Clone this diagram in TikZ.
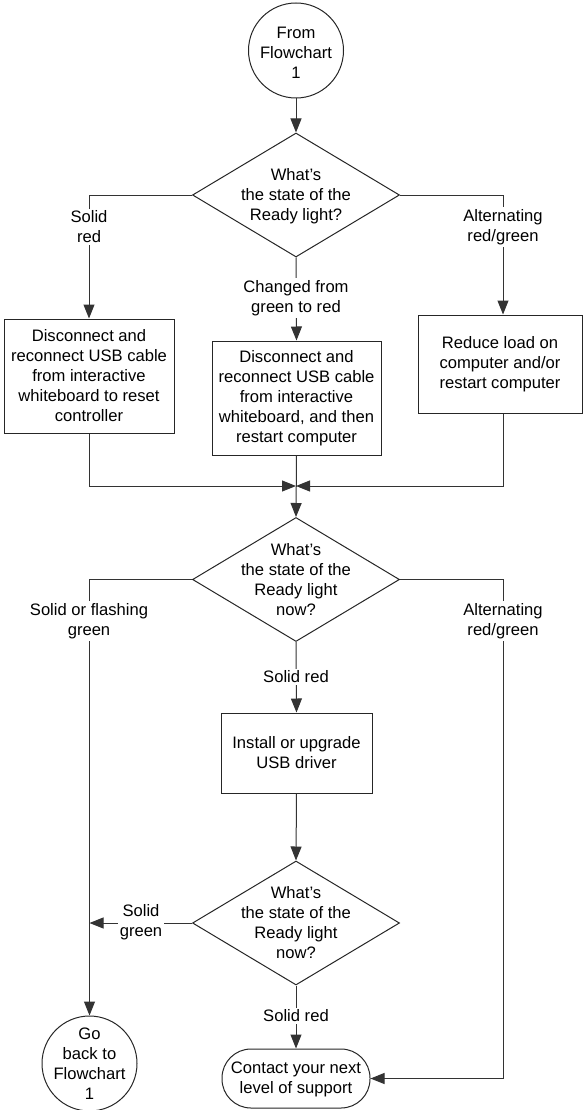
\documentclass[tikz,border=0pt]{standalone}
\usepackage{fontspec}
\setmainfont{Liberation Sans}
\usetikzlibrary{arrows.meta,shapes.geometric}
\begin{document}
\begin{tikzpicture}[x=1pt,y=-1pt,
  every node/.style={font=\fontsize{16.6}{20}\selectfont, align=center, inner sep=0pt},
  shp/.style={draw=black!85, line width=1pt, fill=white},
  boxn/.style={shp, rectangle, minimum width=#1},
  circn/.style={shp, circle, minimum size=95pt},
  dia/.style={shp, diamond, minimum width=207pt, minimum height=124pt},
  term/.style={shp, rectangle, rounded corners=29pt, minimum width=148pt, minimum height=59pt},
  txt/.style={},
  lbl/.style={fill=white, inner sep=2pt},
  conn/.style={draw=black!80, line width=1pt},
  arr/.style={conn, -{Triangle[length=14pt,width=11pt]}}
]
\useasboundingbox (0,0) rectangle (583,1110);
% shapes
\node[circn] (start) at (296,50.5) {};
\node[txt] (startT) at (296,53) {From\\Flowchart\\1};
\node[dia] (d1) at (296,195) {};
\node[txt] (d1T) at (296,196) {What’s\\the state of the\\Ready light?};
\node[boxn=170pt, minimum height=114pt] (lbox) at (89,376) {Disconnect and\\reconnect USB cable\\from interactive\\whiteboard to reset\\controller};
\node[boxn=169pt, minimum height=114pt] (mbox) at (296.5,398) {Disconnect and\\reconnect USB cable\\from interactive\\whiteboard, and then\\restart computer};
\node[boxn=164pt, minimum height=98pt] (rbox) at (500,364) {Reduce load on\\computer and/or\\restart computer};
\coordinate (m) at (296,486);
\node[dia] (d2) at (296,579.5) {};
\node[txt] (d2T) at (296,580) {What’s\\the state of the\\Ready light\\now?};
\node[boxn=151pt, minimum height=80pt] (install) at (296.5,753) {Install or upgrade\\USB driver};
\node[dia] (d3) at (296,923) {};
\node[txt] (d3T) at (296,923) {What’s\\the state of the\\Ready light\\now?};
\node[term] (contact) at (296,1078.5) {};
\node[txt] (contactT) at (296,1079) {Contact your next\\level of support};
\node[circn] (goback) at (89.5,1063.5) {};
\node[txt] (gobackT) at (89.5,1064) {Go\\back to\\Flowchart\\1};
\coordinate (r2) at (503,1078.5);
\coordinate (g3) at (89.5,923);
% connectors
\draw[arr] (start) -- (d1.north);
\draw[arr] (d1.west) -| (lbox.north);
\draw[arr] (d1.east) -| ([xshift=3pt]rbox.north);
\draw[arr] (d1.south) -- (mbox.north);
\draw[arr] (lbox.south) |- (m);
\draw[arr] ([xshift=3pt]rbox.south) |- (m);
\draw[arr] (mbox.south) -- (d2.north);
\draw[arr] (d2.west) -| (goback.north);
\draw[arr] (d2.east) -| (r2) -- (contact.east);
\draw[arr] (d2.south) -- (install.north);
\draw[arr] (install.south) -- (d3.north);
\draw[arr] (d3.west) -- (g3);
\draw[arr] (d3.south) -- (contact.north);
% labels
\node[lbl] (l1) at (89,227) {Solid\\red};
\node[lbl] (l2) at (503,227) {Alternating\\red/green};
\node[lbl] (l3) at (296,298) {Changed from\\green to red};
\node[lbl] (l4) at (89,621) {Solid or flashing\\green};
\node[lbl] (l5) at (503,621) {Alternating\\red/green};
\node[lbl] (l6) at (296,677) {Solid red};
\node[lbl] (l7) at (141,922) {Solid\\green};
\node[lbl] (l8) at (296,1016) {Solid red};
\end{tikzpicture}
\end{document}
